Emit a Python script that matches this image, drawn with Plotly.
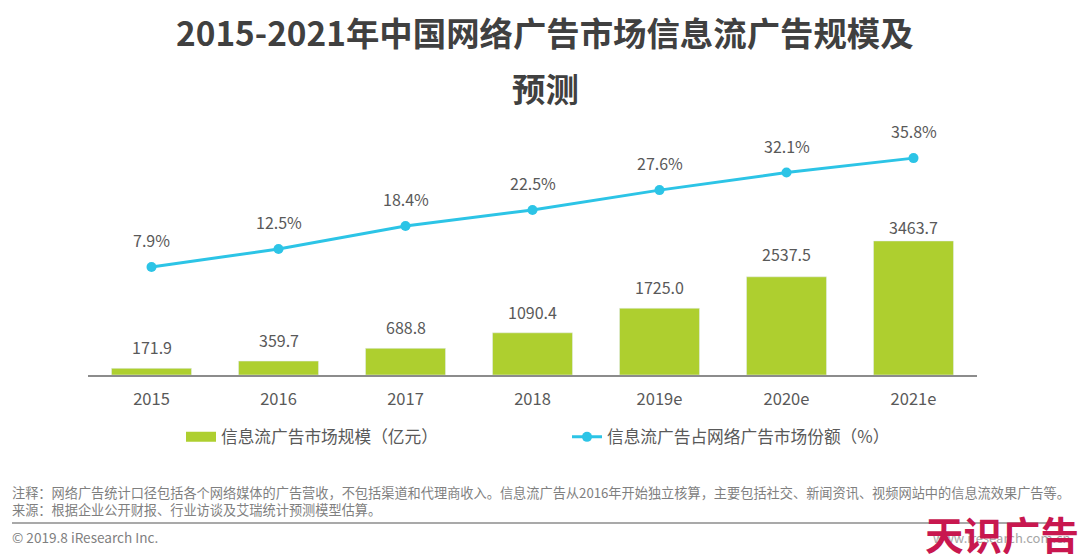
import plotly.graph_objects as go

years = ["2015", "2016", "2017", "2018", "2019e", "2020e", "2021e"]
market_size = [171.9, 359.7, 688.8, 1090.4, 1725.0, 2537.5, 3463.7]
market_share = [7.9, 12.5, 18.4, 22.5, 27.6, 32.1, 35.8]
size_labels = ["171.9", "359.7", "688.8", "1090.4", "1725.0", "2537.5", "3463.7"]
share_labels = ["7.9%", "12.5%", "18.4%", "22.5%", "27.6%", "32.1%", "35.8%"]
title_lines = ["2015-2021年中国网络广告市场信息流广告规模及", "预测"]
bar_name = "信息流广告市场规模（亿元）"
line_name = "信息流广告占网络广告市场份额（%）"
note_1 = "注释：网络广告统计口径包括各个网络媒体的广告营收，不包括渠道和代理商收入。信息流广告从2016年开始独立核算，主要包括社交、新闻资讯、视频网站中的信息流效果广告等。"
note_2 = "来源：根据企业公开财报、行业访谈及艾瑞统计预测模型估算。"
copyright_text = "© 2019.8 iResearch Inc."
site_text = "www.iresearch.com.cn"
stamp_text = "天识广告"

W, H = 1080, 554
FONT = "Noto Sans CJK SC, Noto Sans, sans-serif"
GREY = "#595959"
GREEN = "#AECF2F"
BLUE = "#2CC4E6"

fig = go.Figure()
fig.add_trace(go.Bar(x=years, y=market_size, name=bar_name, marker_color=GREEN, width=0.63, showlegend=False))
# legend entry for the bars: a wide flat swatch like the reference's
fig.add_trace(go.Scatter(x=[None], y=[None], name=bar_name, mode="lines", line=dict(color=GREEN, width=11)))
fig.add_trace(go.Scatter(
    x=years, y=market_share, name=line_name, yaxis="y2", mode="lines+markers",
    line=dict(color=BLUE, width=3), marker=dict(size=10, color=BLUE), cliponaxis=False,
))

# on a category axis an annotation's x is the category's position
for i, (v, s) in enumerate(zip(market_size, size_labels)):
    gap = {5: 9, 6: 0}.get(i, 7)
    fig.add_annotation(x=i, y=v, xref="x", yref="y", text=s, showarrow=False, yanchor="bottom", yshift=gap,
                       font=dict(size=16, color=GREY, family=FONT))
for i, (v, s) in enumerate(zip(market_share, share_labels)):
    fig.add_annotation(x=i, y=v, xref="x", yref="y2", text=s, showarrow=False, yanchor="bottom", yshift=13,
                       font=dict(size=16, color=GREY, family=FONT))


def txt(s, x, y, size, color=GREY, anchor="left", bold=False):
    fig.add_annotation(text=f"<b>{s}</b>" if bold else s, x=x / W, y=1 - y / H, xref="paper", yref="paper",
                       xanchor=anchor, yanchor="middle", showarrow=False, borderpad=0,
                       font=dict(size=size, color=color, family=FONT))


txt(title_lines[0], 545, 31, 33.4, "#404040", "center", True)
txt(title_lines[1], 545, 87, 33.4, "#404040", "center", True)
txt(note_1, 11, 492.5, 13.2, "#7F7F7F")
txt(note_2, 11, 509, 13.2, "#7F7F7F")
txt(copyright_text, 11, 537, 13.6, "#7F7F7F")
txt(site_text, 1072, 537, 13, "#A6A6A6", "right")
txt(stamp_text, 1002, 533, 38.5, "#C8174F", "center", True)

fig.update_layout(
    width=W, height=H, autosize=False, margin=dict(l=0, r=0, t=0, b=0),
    paper_bgcolor="white", plot_bgcolor="white", bargap=0.37, showlegend=True,
    font=dict(family=FONT, color=GREY, size=16),
    xaxis=dict(domain=[88 / W, 977 / W], anchor="y", showgrid=False, zeroline=False, showline=True,
               linecolor="#8C8C8C", linewidth=1.5, ticks="", ticklabelstandoff=8,
               tickfont=dict(size=16.5, color=GREY, family=FONT),
               categoryorder="array", categoryarray=years, range=[-0.5, 6.5]),
    yaxis=dict(domain=[1 - 375 / H, 1 - 100 / H], range=[0, 7106], visible=False),
    yaxis2=dict(domain=[1 - 375 / H, 1 - 100 / H], overlaying="y", range=[-19.8, 50.7], visible=False),
    legend=dict(orientation="h", x=181 / W, xanchor="left", y=1 - 437 / H, yanchor="middle",
                entrywidth=341, entrywidthmode="pixels", itemwidth=30,
                font=dict(size=16.7, color=GREY, family=FONT), bgcolor="rgba(0,0,0,0)"),
    shapes=[dict(type="line", xref="paper", yref="paper", x0=12 / W, x1=1068 / W,
                 y0=1 - 523 / H, y1=1 - 523 / H, line=dict(color="#8C8C8C", width=1.5))],
)
fig.write_html("out.html", post_script="document.body.style.margin='0';", config=dict(displayModeBar=False))
